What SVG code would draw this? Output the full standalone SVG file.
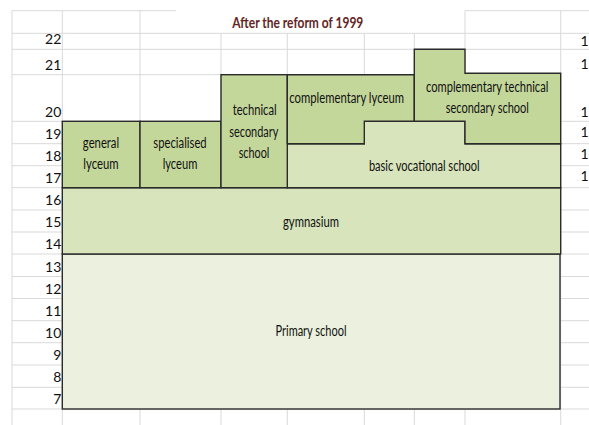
<svg xmlns="http://www.w3.org/2000/svg" width="589" height="425" viewBox="0 0 589 425">
  <style>
    .grid line { stroke: #d9d9d9; stroke-width: 1; }
    .box { stroke: #2b2b2b; stroke-width: 1.4; stroke-linejoin: miter; }
    .mid { fill: #c4d79b; }
    .light { fill: #d8e4bc; }
    .pale { fill: #ebf1de; }
    text { font-family: Lato, "Open Sans", "Liberation Sans", sans-serif; font-size: 14.5px; fill: #111111; }
    .lbl { text-anchor: middle; }
    .num { text-anchor: end; font-size: 14px; }
    .title { font-weight: bold; font-size: 15.5px; fill: #632523; text-anchor: middle; }
  </style>

  <rect width="589" height="425" fill="#ffffff"/>

  <!-- worksheet gridlines -->
  <g class="grid">
    <line x1="12" y1="10.7" x2="176" y2="10.7"/>
    <line x1="465" y1="10.7" x2="589" y2="10.7"/>
    <line x1="12" y1="33.3" x2="589" y2="33.3"/>
    <line x1="12" y1="49.3" x2="589" y2="49.3"/>
    <line x1="12" y1="74.7" x2="560.7" y2="74.7"/>
    <line x1="12" y1="121.3" x2="589" y2="121.3"/>
    <line x1="12" y1="143.7" x2="589" y2="143.7"/>
    <line x1="12" y1="165.7" x2="589" y2="165.7"/>
    <line x1="12" y1="187.7" x2="589" y2="187.7"/>
    <line x1="12" y1="210" x2="589" y2="210"/>
    <line x1="12" y1="232" x2="589" y2="232"/>
    <line x1="12" y1="254" x2="589" y2="254"/>
    <line x1="12" y1="276.5" x2="589" y2="276.5"/>
    <line x1="12" y1="298.5" x2="589" y2="298.5"/>
    <line x1="12" y1="320.7" x2="589" y2="320.7"/>
    <line x1="12" y1="342.7" x2="589" y2="342.7"/>
    <line x1="12" y1="365" x2="589" y2="365"/>
    <line x1="12" y1="387.3" x2="589" y2="387.3"/>
    <line x1="12" y1="409" x2="589" y2="409"/>
    <line x1="12" y1="10.7" x2="12" y2="425"/>
    <line x1="62.3" y1="10.7" x2="62.3" y2="425"/>
    <line x1="140" y1="10.7" x2="140" y2="425"/>
    <line x1="221" y1="33.3" x2="221" y2="425"/>
    <line x1="287.3" y1="33.3" x2="287.3" y2="425"/>
    <line x1="364.3" y1="33.3" x2="364.3" y2="425"/>
    <line x1="414.3" y1="33.3" x2="414.3" y2="425"/>
    <line x1="465" y1="10.7" x2="465" y2="425"/>
    <line x1="560.7" y1="10.7" x2="560.7" y2="425"/>
  </g>

  <text class="title" x="297.8" y="27.7" textLength="131" lengthAdjust="spacingAndGlyphs">After the reform of 1999</text>

  <!-- age scale, left -->
  <g id="age-left">
    <text class="num" x="61.3" y="44.3">22</text>
    <text class="num" x="61.3" y="69.5">21</text>
    <text class="num" x="61.3" y="116.8">20</text>
    <text class="num" x="61.3" y="138.5">19</text>
    <text class="num" x="61.3" y="160.8">18</text>
    <text class="num" x="61.3" y="183">17</text>
    <text class="num" x="61.3" y="205">16</text>
    <text class="num" x="61.3" y="227">15</text>
    <text class="num" x="61.3" y="249">14</text>
    <text class="num" x="61.3" y="271.5">13</text>
    <text class="num" x="61.3" y="293.5">12</text>
    <text class="num" x="61.3" y="315.7">11</text>
    <text class="num" x="61.3" y="337.7">10</text>
    <text class="num" x="61.3" y="360">9</text>
    <text class="num" x="61.3" y="382.3">8</text>
    <text class="num" x="61.3" y="404">7</text>
  </g>

  <!-- age scale, right edge -->
  <g id="age-right">
    <text class="num" x="588.6" y="46">1</text>
    <text class="num" x="588.6" y="69.3">1</text>
    <text class="num" x="588.6" y="116.7">1</text>
    <text class="num" x="588.6" y="137.3">1</text>
    <text class="num" x="588.6" y="159.3">1</text>
    <text class="num" x="588.6" y="180.7">1</text>
  </g>

  <g id="primary-school">
    <rect class="box pale" x="62.3" y="254" width="497.7" height="155"/>
    <text class="lbl" x="311" y="335.5" textLength="71" lengthAdjust="spacingAndGlyphs">Primary school</text>
  </g>

  <g id="gymnasium">
    <rect class="box light" x="62.3" y="187.7" width="498.4" height="66.3"/>
    <text class="lbl" x="311" y="227" textLength="56" lengthAdjust="spacingAndGlyphs">gymnasium</text>
  </g>

  <g id="basic-vocational-school">
    <polygon class="box light" points="287.3,143.7 364.3,143.7 364.3,121.3 465,121.3 465,143.7 560.7,143.7 560.7,187.7 287.3,187.7"/>
    <text class="lbl" x="424.3" y="170.5" textLength="110.7" lengthAdjust="spacingAndGlyphs">basic vocational school</text>
  </g>

  <g id="general-lyceum">
    <rect class="box mid" x="62.3" y="121.3" width="77.7" height="66.4"/>
    <text class="lbl" x="101" y="148" textLength="36.3" lengthAdjust="spacingAndGlyphs">general</text>
    <text class="lbl" x="101" y="169" textLength="35.3" lengthAdjust="spacingAndGlyphs">lyceum</text>
  </g>

  <g id="specialised-lyceum">
    <rect class="box mid" x="140" y="121.3" width="81" height="66.4"/>
    <text class="lbl" x="180" y="148" textLength="53.3" lengthAdjust="spacingAndGlyphs">specialised</text>
    <text class="lbl" x="180" y="169" textLength="34.7" lengthAdjust="spacingAndGlyphs">lyceum</text>
  </g>

  <g id="technical-secondary-school">
    <rect class="box mid" x="221" y="74.7" width="66.3" height="113"/>
    <text class="lbl" x="254.7" y="115" textLength="44" lengthAdjust="spacingAndGlyphs">technical</text>
    <text class="lbl" x="253.8" y="136.5" textLength="49" lengthAdjust="spacingAndGlyphs">secondary</text>
    <text class="lbl" x="254" y="158.3" textLength="30.7" lengthAdjust="spacingAndGlyphs">school</text>
  </g>

  <g id="complementary-lyceum">
    <polygon class="box mid" points="287.3,74.7 414.3,74.7 414.3,121.3 364.3,121.3 364.3,143.7 287.3,143.7"/>
    <text x="289.3" y="102.5" textLength="114.7" lengthAdjust="spacingAndGlyphs">complementary lyceum</text>
  </g>

  <g id="complementary-technical-secondary-school">
    <polygon class="box mid" points="414.3,49.3 465,49.3 465,73.3 560.7,73.3 560.7,143.7 465,143.7 465,121.3 414.3,121.3"/>
    <text class="lbl" x="487.2" y="92" textLength="122.3" lengthAdjust="spacingAndGlyphs">complementary technical</text>
    <text class="lbl" x="487.3" y="113.3" textLength="83.3" lengthAdjust="spacingAndGlyphs">secondary school</text>
  </g>
</svg>
